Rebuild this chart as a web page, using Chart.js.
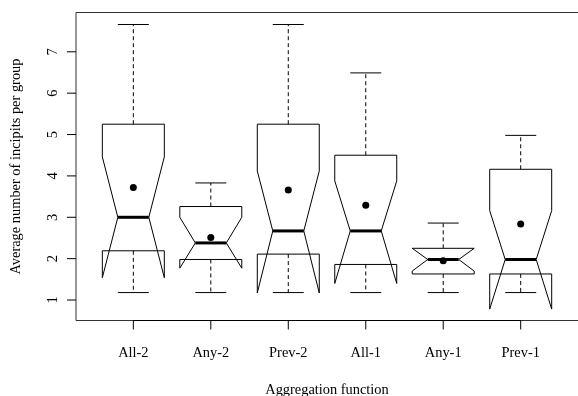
<!DOCTYPE html>
<html>
<head>
<meta charset="utf-8">
<script src="https://cdn.jsdelivr.net/npm/chart.js@4/dist/chart.umd.min.js"></script>
<style>
html,body{margin:0;padding:0;background:#fff;}
canvas{display:block;}
</style>
</head>
<body>
<canvas id="c" width="578" height="396"></canvas>
<script>
// ---- data ----
const categories  = ['All-2', 'Any-2', 'Prev-2', 'All-1', 'Any-1', 'Prev-1'];
const whiskerLow  = [1.18, 1.18, 1.18, 1.18, 1.18, 1.18];
const q1          = [2.19, 1.98, 2.11, 1.86, 1.63, 1.63];
const median      = [3.00, 2.38, 2.67, 2.67, 1.98, 1.98];
const q3          = [5.25, 3.26, 5.25, 4.50, 2.25, 4.16];
const whiskerHigh = [7.66, 3.83, 7.66, 6.49, 2.86, 4.98];
const notchLow    = [1.54, 1.77, 1.17, 1.40, 1.70, 0.78];
const notchHigh   = [4.46, 3.00, 4.12, 3.88, 2.25, 3.16];
const means       = [3.72, 2.51, 3.66, 3.29, 1.95, 2.84];
const yTicks      = [1, 2, 3, 4, 5, 6, 7];
const xTitle = 'Aggregation function';
const yTitle = 'Average number of incipits per group';

const FONT = '14.4px "Liberation Serif", "Times New Roman", serif';
const BOX_HALF = 0.4, NOTCH_HALF = 0.2, CAP_HALF = 0.2;

const rBoxPlugin = {
  id: 'rbox',
  beforeDatasetsDraw(chart) {
    const ctx = chart.ctx, xs = chart.scales.x, ys = chart.scales.y;
    ctx.save();
    ctx.strokeStyle = '#000';
    ctx.lineWidth = 1;
    categories.forEach((c, i) => {
      const xc = i + 1;
      const xl = xs.getPixelForValue(xc - BOX_HALF), xr = xs.getPixelForValue(xc + BOX_HALF);
      const xml = xs.getPixelForValue(xc - NOTCH_HALF), xmr = xs.getPixelForValue(xc + NOTCH_HALF);
      const xcl = xs.getPixelForValue(xc - CAP_HALF), xcr = xs.getPixelForValue(xc + CAP_HALF);
      const xm = xs.getPixelForValue(xc);
      const yq1 = ys.getPixelForValue(q1[i]), yq3 = ys.getPixelForValue(q3[i]);
      const ymed = ys.getPixelForValue(median[i]);
      const ynl = ys.getPixelForValue(notchLow[i]), ynu = ys.getPixelForValue(notchHigh[i]);
      const ywl = ys.getPixelForValue(whiskerLow[i]), ywh = ys.getPixelForValue(whiskerHigh[i]);
      // whiskers (dashed)
      ctx.setLineDash([4, 3]);
      ctx.beginPath();
      ctx.moveTo(xm, yq1); ctx.lineTo(xm, ywl);
      ctx.moveTo(xm, yq3); ctx.lineTo(xm, ywh);
      ctx.stroke();
      ctx.setLineDash([]);
      // staples
      ctx.beginPath();
      ctx.moveTo(xcl, ywl); ctx.lineTo(xcr, ywl);
      ctx.moveTo(xcl, ywh); ctx.lineTo(xcr, ywh);
      ctx.stroke();
      // notched box polygon (R style)
      ctx.beginPath();
      ctx.moveTo(xl, yq1);
      ctx.lineTo(xl, ynl);
      ctx.lineTo(xml, ymed);
      ctx.lineTo(xl, ynu);
      ctx.lineTo(xl, yq3);
      ctx.lineTo(xr, yq3);
      ctx.lineTo(xr, ynu);
      ctx.lineTo(xmr, ymed);
      ctx.lineTo(xr, ynl);
      ctx.lineTo(xr, yq1);
      ctx.closePath();
      ctx.stroke();
      // median
      ctx.lineWidth = 3;
      ctx.beginPath();
      ctx.moveTo(xml, ymed); ctx.lineTo(xmr, ymed);
      ctx.stroke();
      ctx.lineWidth = 1;
    });
    ctx.restore();
  },
  afterDraw(chart) {
    const ctx = chart.ctx, xs = chart.scales.x, ys = chart.scales.y, a = chart.chartArea;
    ctx.save();
    // frame
    ctx.strokeStyle = '#333';
    ctx.lineWidth = 1;
    ctx.beginPath();
    ctx.moveTo(chart.width, a.top); ctx.lineTo(a.left, a.top);
    ctx.lineTo(a.left, a.bottom); ctx.lineTo(chart.width, a.bottom);
    ctx.stroke();
    ctx.strokeStyle = '#000';
    // y axis ticks + labels
    ctx.font = FONT;
    ctx.fillStyle = '#000';
    yTicks.forEach(v => {
      const y = ys.getPixelForValue(v);
      ctx.beginPath(); ctx.moveTo(a.left, y); ctx.lineTo(a.left - 9, y); ctx.stroke();
      ctx.save();
      ctx.translate(a.left - 19, y);
      ctx.rotate(-Math.PI / 2);
      ctx.textAlign = 'center'; ctx.textBaseline = 'alphabetic';
      ctx.fillText(String(v), 0, 0);
      ctx.restore();
    });
    // x axis ticks + labels
    ctx.beginPath();
    ctx.moveTo(xs.getPixelForValue(1), a.bottom);
    ctx.lineTo(xs.getPixelForValue(categories.length), a.bottom);
    ctx.stroke();
    categories.forEach((c, i) => {
      const x = xs.getPixelForValue(i + 1);
      ctx.beginPath(); ctx.moveTo(x, a.bottom); ctx.lineTo(x, a.bottom + 9); ctx.stroke();
      ctx.textAlign = 'center'; ctx.textBaseline = 'alphabetic';
      ctx.fillText(c, x, a.bottom + 36.8);
    });
    // titles
    ctx.textAlign = 'center'; ctx.textBaseline = 'alphabetic';
    ctx.fillText(xTitle, (xs.getPixelForValue(0.5) + xs.getPixelForValue(6.5)) / 2, a.bottom + 73.8);
    ctx.save();
    ctx.translate(a.left - 56, (a.top + a.bottom) / 2);
    ctx.rotate(-Math.PI / 2);
    ctx.fillText(yTitle, 0, 0);
    ctx.restore();
    ctx.restore();
  }
};

new Chart(document.getElementById('c'), {
  type: 'scatter',
  data: {
    datasets: [{
      data: means.map((m, i) => ({ x: i + 1, y: m })),
      pointRadius: 3.5,
      pointBackgroundColor: '#000',
      pointBorderColor: '#000',
      pointBorderWidth: 0
    }]
  },
  options: {
    responsive: false,
    animation: false,
    devicePixelRatio: 1,
    layout: { padding: { left: 76, top: 12.5, right: 0, bottom: 75.5 } },
    plugins: { legend: { display: false }, tooltip: { enabled: false } },
    scales: {
      x: { type: 'linear', min: 0.26, max: 6.688, display: false },
      y: { type: 'linear', min: 0.505, max: 7.95, display: false }
    }
  },
  plugins: [rBoxPlugin]
});
</script>
</body>
</html>
